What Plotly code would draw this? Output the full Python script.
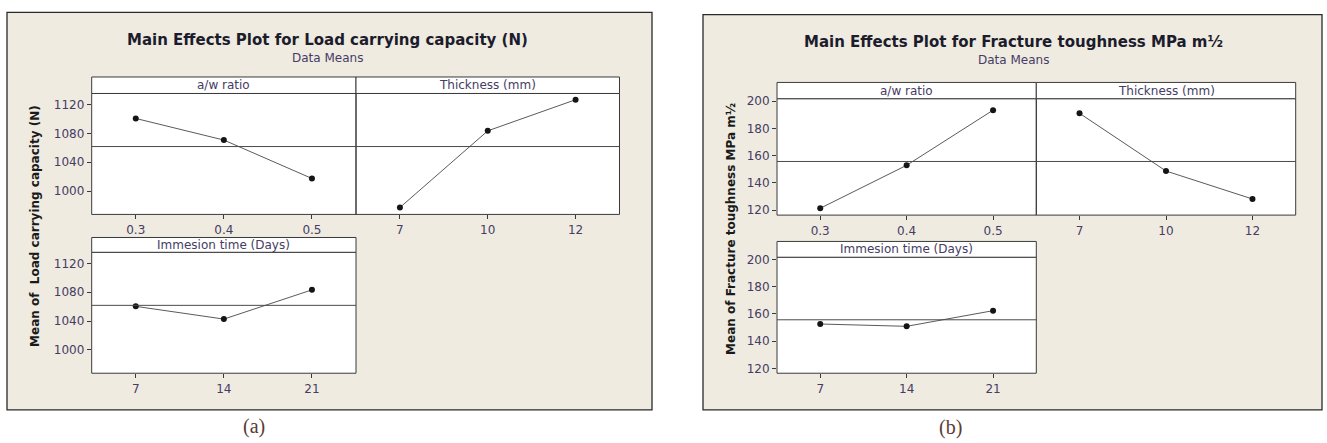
import plotly.graph_objects as go

# ---------------- data ----------------
aw_levels = ["0.3", "0.4", "0.5"]
thickness_levels = ["7", "10", "12"]
immersion_levels = ["7", "14", "21"]

load_aw = [1100.8, 1070.8, 1017.4]
load_thickness = [977.1, 1083.6, 1126.8]
load_immersion = [1060.4, 1042.7, 1083.3]
load_grand_mean = 1061.8
load_ticks = [1000, 1040, 1080, 1120]

frac_aw = [121.4, 152.9, 193.3]
frac_thickness = [191.0, 148.7, 128.2]
frac_immersion = [152.6, 150.9, 162.4]
frac_grand_mean = 155.7
frac_ticks = [120, 140, 160, 180, 200]

facet_titles = ["a/w ratio", "Thickness (mm)", "Immesion time (Days)"]

# ---------------- styling ----------------
W, H = 1327, 443
BEIGE = "#efebe1"
FRAME = "#3a3a3a"
TXT = "#463c64"
FONT = "DejaVu Sans"


def px(x):
    return x / W


def py(y):
    return 1 - y / H


fig = go.Figure()
shapes = []
annotations = []
layout_axes = {}

panels = [
    dict(box=(7, 8.5, 652, 411.5),
         cols=(91.7, 356, 619.5),
         top=(74, 90.7, 213.3), bottom=(236.7, 251.7, 374.3),
         yrange=[967.5, 1135.5], ticks=load_ticks,
         series=[load_aw, load_thickness, load_immersion],
         mean=load_grand_mean,
         title="Main Effects Plot for Load carrying capacity (N)",
         title_x=327.7, title_y=37, sub_y=55,
         ytitle="Mean of  Load carrying capacity (N)", ytitle_x=35, ytitle_y=225,
         caption="(a)", cap_x=254, cap_y=428),
    dict(box=(703, 10.7, 1322, 411.5),
         cols=(777, 1036.3, 1295.7),
         top=(79.5, 96, 214), bottom=(240.7, 256.7, 374.3),
         yrange=[116.4, 201.7], ticks=frac_ticks,
         series=[frac_aw, frac_thickness, frac_immersion],
         mean=frac_grand_mean,
         title="Main Effects Plot for Fracture toughness MPa m½",
         title_x=1013, title_y=39, sub_y=57,
         ytitle="Mean of Fracture toughness MPa m½", ytitle_x=731, ytitle_y=228,
         caption="(b)", cap_x=950, cap_y=429),
]

levels = [aw_levels, thickness_levels, immersion_levels]

axis_idx = 0
for p in panels:
    x0, y0, x1, y1 = p["box"]
    shapes.append(dict(type="rect", xref="paper", yref="paper",
                       x0=px(x0), x1=px(x1), y0=py(y1), y1=py(y0),
                       fillcolor=BEIGE, line=dict(color="#2a2a2a", width=1.3),
                       layer="below"))
    cl, cm, cr = p["cols"]
    cells = [((cl, cm), p["top"]), ((cm, cr), p["top"]), ((cl, cm), p["bottom"])]
    for k, ((cx0, cx1), (ht, hb, pb)) in enumerate(cells):
        axis_idx += 1
        sfx = "" if axis_idx == 1 else str(axis_idx)
        xname, yname = "x" + sfx, "y" + sfx
        # white data area
        shapes.append(dict(type="rect", xref="paper", yref="paper",
                           x0=px(cx0), x1=px(cx1), y0=py(pb), y1=py(hb),
                           fillcolor="white", line=dict(width=0), layer="below"))
        # data area frame
        shapes.append(dict(type="rect", xref="paper", yref="paper",
                           x0=px(cx0), x1=px(cx1), y0=py(pb), y1=py(hb),
                           fillcolor="rgba(0,0,0,0)", line=dict(color=FRAME, width=1)))
        # facet header
        shapes.append(dict(type="rect", xref="paper", yref="paper",
                           x0=px(cx0), x1=px(cx1), y0=py(hb), y1=py(ht),
                           fillcolor="white", line=dict(color=FRAME, width=1)))
        annotations.append(dict(text=facet_titles[k], xref="paper", yref="paper",
                                x=px((cx0 + cx1) / 2), y=py((ht + hb) / 2),
                                xanchor="center", yanchor="middle", showarrow=False,
                                font=dict(family=FONT, size=12, color=TXT)))
        # grand mean reference line
        shapes.append(dict(type="line", xref=xname + " domain", yref=yname,
                           x0=0, x1=1, y0=p["mean"], y1=p["mean"],
                           line=dict(color="#4a4a4a", width=1)))
        show_y = k != 1
        layout_axes["xaxis" + sfx] = dict(
            domain=[px(cx0), px(cx1)], anchor=yname, type="category",
            range=[-0.5, 2.5], showline=False, ticks="outside", ticklen=4,
            tickcolor=FRAME, tickfont=dict(family=FONT, size=12, color=TXT),
            showgrid=False, zeroline=False, fixedrange=True)
        layout_axes["yaxis" + sfx] = dict(
            domain=[py(pb), py(hb)], anchor=xname, range=p["yrange"],
            tickvals=p["ticks"], showticklabels=show_y,
            ticks="outside" if show_y else "", ticklen=4, tickcolor=FRAME,
            showline=False, tickfont=dict(family=FONT, size=12, color=TXT),
            showgrid=False, zeroline=False, fixedrange=True)
        fig.add_trace(go.Scatter(
            x=levels[k], y=p["series"][k], xaxis=xname, yaxis=yname,
            mode="lines+markers", line=dict(color="#5a5a5a", width=1),
            marker=dict(color="#151515", size=6), showlegend=False,
            hoverinfo="skip"))

    annotations.append(dict(text="<b>" + p["title"] + "</b>", xref="paper", yref="paper",
                            x=px(p["title_x"]), y=py(p["title_y"]),
                            xanchor="center", yanchor="middle", showarrow=False,
                            font=dict(family=FONT, size=15, color="#1c1c2c")))
    annotations.append(dict(text="Data Means", xref="paper", yref="paper",
                            x=px(p["title_x"]), y=py(p["sub_y"]),
                            xanchor="center", yanchor="middle", showarrow=False,
                            font=dict(family=FONT, size=12, color=TXT)))
    annotations.append(dict(text="<b>" + p["ytitle"] + "</b>", xref="paper", yref="paper",
                            x=px(p["ytitle_x"]), y=py(p["ytitle_y"]), textangle=-90,
                            xanchor="center", yanchor="middle", showarrow=False,
                            font=dict(family=FONT, size=12, color="#1a1a1a")))
    annotations.append(dict(text=p["caption"], xref="paper", yref="paper",
                            x=px(p["cap_x"]), y=py(p["cap_y"]),
                            xanchor="center", yanchor="middle", showarrow=False,
                            font=dict(family="Liberation Serif", size=20, color="#5b3b32")))

fig.update_layout(
    width=W, height=H, margin=dict(l=0, r=0, t=0, b=0),
    paper_bgcolor="white", plot_bgcolor="rgba(0,0,0,0)",
    shapes=shapes, annotations=annotations, showlegend=False,
    **layout_axes)

fig.write_html("out.html", config={"displayModeBar": False},
               post_script="document.body.style.margin='0';document.body.style.overflow='hidden';")
